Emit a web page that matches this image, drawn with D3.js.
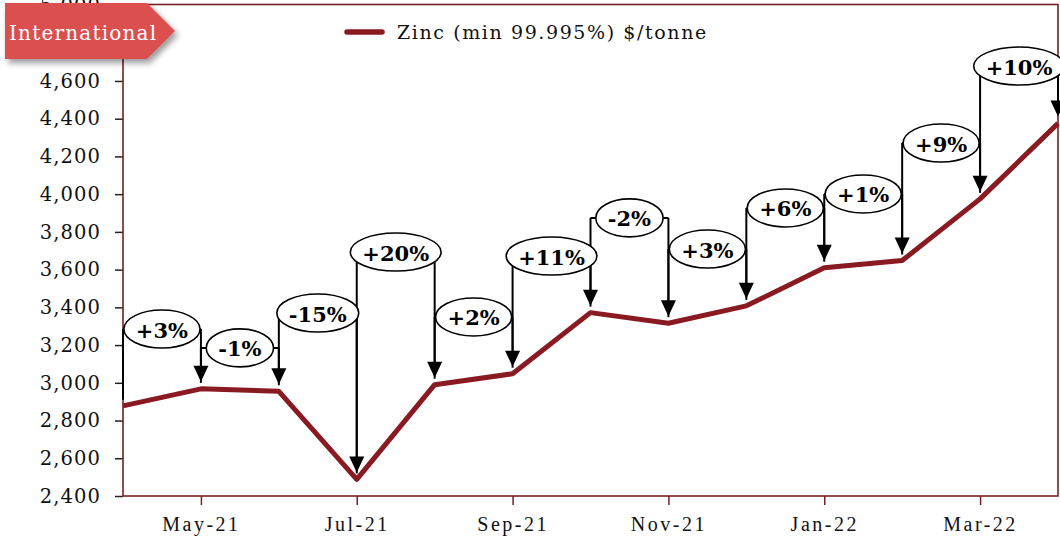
<!DOCTYPE html>
<html>
<head>
<meta charset="utf-8">
<script src="https://cdn.jsdelivr.net/npm/d3@7"></script>
<style>
  html, body { margin: 0; padding: 0; background: #ffffff; }
  svg { display: block; }
</style>
</head>
<body>
<svg id="chart" width="1060" height="542"></svg>
<script>
// ---------- data ----------
const months = ["2021-04","2021-05","2021-06","2021-07","2021-08","2021-09","2021-10",
                "2021-11","2021-12","2022-01","2022-02","2022-03","2022-04"];
const zinc = [2878, 2968, 2955, 2488, 2990, 3048, 3372, 3316, 3408, 3610, 3648, 3975, 4375];
const changeLabels = ["+3%","-1%","-15%","+20%","+2%","+11%","-2%","+3%","+6%","+1%","+9%","+10%"];
// height (in $/tonne) at which each change callout sits
const labelLevels = [3285, 3185, 3370, 3693, 3349, 3672, 3874, 3709, 3927, 4001, 4271, 4679];
const yTicks = [2400, 2600, 2800, 3000, 3200, 3400, 3600, 3800, 4000, 4200, 4400, 4600, 4800, 5000];
const xTickMonths = ["2021-05","2021-07","2021-09","2021-11","2022-01","2022-03"];
const seriesName = "Zinc (min 99.995%) $/tonne";
const badgeText = "International";

// ---------- layout ----------
const svg = d3.select("#chart");
const L = 123, R = 1058, T = 5.5, B = 496;
const lineColor = "#8a1a22";
const frameColor = "#7a1f22";

const x = d3.scalePoint().domain(months).range([L, R]);
const y = d3.scaleLinear().domain([2400, 5000]).range([B, T]);
const parse = d3.timeParse("%Y-%m");
const fmt = d3.timeFormat("%b-%y");

svg.append("rect").attr("width", 1060).attr("height", 542).attr("fill", "#fff");

// y axis
const yAxis = svg.append("g")
  .attr("transform", `translate(${L},0)`)
  .call(d3.axisLeft(y).tickValues(yTicks).tickSize(8).tickPadding(14)
        .tickFormat(d3.format(",")));
yAxis.select(".domain").remove();
yAxis.selectAll(".tick line").attr("stroke", "#222").attr("stroke-width", 1.5);
yAxis.selectAll(".tick text")
  .attr("font-family", "DejaVu Serif").attr("font-size", 19.5)
  .attr("letter-spacing", 1.1).attr("fill", "#111");

// x axis
const xAxis = svg.append("g")
  .attr("transform", `translate(0,${B})`)
  .call(d3.axisBottom(x).tickValues(xTickMonths).tickSize(9).tickPadding(12)
        .tickFormat(d => fmt(parse(d))));
xAxis.select(".domain").remove();
xAxis.selectAll(".tick line").attr("stroke", frameColor).attr("stroke-width", 1.5);
xAxis.selectAll(".tick text")
  .attr("font-family", "Liberation Serif").attr("font-size", 20)
  .attr("letter-spacing", 2.5).attr("fill", "#111");

// plot frame
svg.append("rect")
  .attr("x", L).attr("y", y(5000) - 1).attr("width", R - L).attr("height", B - y(5000) + 1)
  .attr("fill", "none").attr("stroke", frameColor).attr("stroke-width", 1.6);

// series line
const pts = months.map((m, i) => ({ m, v: zinc[i] }));
svg.append("path")
  .datum(pts)
  .attr("fill", "none")
  .attr("stroke", lineColor)
  .attr("stroke-width", 5)
  .attr("stroke-linejoin", "round")
  .attr("d", d3.line().x(d => x(d.m)).y(d => y(d.v)));

// change callouts
const ann = svg.append("g");
const annotations = changeLabels.map((lab, i) => ({
  lab, i,
  x0: x(months[i]), x1: x(months[i + 1]),
  y0: y(zinc[i]), y1: y(zinc[i + 1]),
  yc: y(labelLevels[i])
}));

annotations.forEach(a => {
  const g = ann.append("g");
  g.append("line").attr("x1", a.x0).attr("x2", a.x0).attr("y1", a.yc).attr("y2", a.y0 - 6)
    .attr("stroke", "#000").attr("stroke-width", 2);
  g.append("line").attr("x1", a.x0).attr("x2", a.x1).attr("y1", a.yc).attr("y2", a.yc)
    .attr("stroke", "#000").attr("stroke-width", 2);
  const tip = a.y1 - 7;
  g.append("line").attr("x1", a.x1).attr("x2", a.x1).attr("y1", a.yc).attr("y2", tip - 13)
    .attr("stroke", "#000").attr("stroke-width", 2);
  g.append("path")
    .attr("d", `M${a.x1 - 7.5},${tip - 16} L${a.x1 + 7.5},${tip - 16} L${a.x1},${tip} Z`)
    .attr("fill", "#000");
});

annotations.forEach(a => {
  const g = ann.append("g");
  const cx = (a.x0 + a.x1) / 2;
  const ell = g.append("ellipse").attr("cx", cx).attr("cy", a.yc)
    .attr("fill", "#fff").attr("stroke", "#000").attr("stroke-width", 1.6);
  const t = g.append("text").attr("x", cx).attr("y", a.yc + 1)
    .attr("text-anchor", "middle").attr("dominant-baseline", "central")
    .attr("font-family", "DejaVu Serif").attr("font-weight", "bold").attr("font-size", 21)
    .attr("fill", "#000").text(a.lab);
  const w = t.node().getComputedTextLength();
  ell.attr("rx", w / 2 + 12).attr("ry", 19);
});

// legend
svg.append("line").attr("x1", 347).attr("x2", 382).attr("y1", 32).attr("y2", 32)
  .attr("stroke", lineColor).attr("stroke-width", 5.5).attr("stroke-linecap", "round");
svg.append("text").attr("x", 397).attr("y", 32).attr("dominant-baseline", "central")
  .attr("font-family", "DejaVu Serif").attr("font-size", 19).attr("letter-spacing", 1.6)
  .attr("fill", "#111").text(seriesName);

// badge
const defs = svg.append("defs");
const f = defs.append("filter").attr("id", "shadow").attr("x", "-20%").attr("y", "-30%")
  .attr("width", "150%").attr("height", "180%");
f.append("feDropShadow").attr("dx", 3).attr("dy", 4).attr("stdDeviation", 3)
  .attr("flood-color", "#000").attr("flood-opacity", 0.4);
svg.append("path")
  .attr("d", "M5,3 H147 L175,31 L147,59 H5 Z")
  .attr("fill", "#db5050").attr("filter", "url(#shadow)");
svg.append("text").attr("x", 9).attr("y", 33).attr("dominant-baseline", "central")
  .attr("font-family", "DejaVu Serif").attr("font-size", 20).attr("letter-spacing", 1.2)
  .attr("fill", "#fff").text(badgeText);
</script>
</body>
</html>
